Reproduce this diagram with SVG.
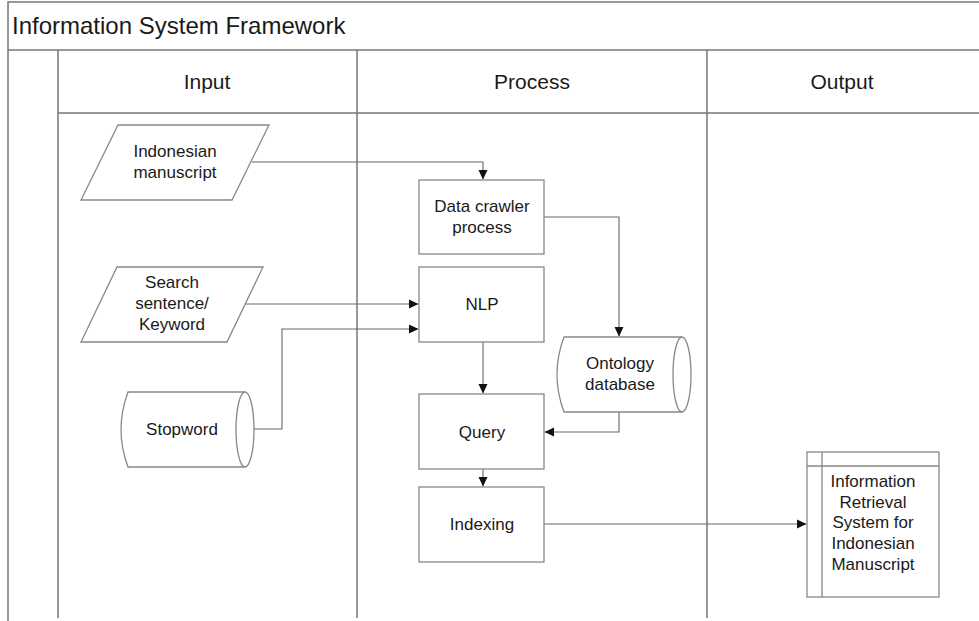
<svg xmlns="http://www.w3.org/2000/svg" width="979" height="621" viewBox="0 0 979 621">
<style>
text{font-family:"Liberation Sans",Arial,sans-serif;fill:#1a1a1a;text-anchor:middle}
.lane{fill:none;stroke:#777;stroke-width:1.5}
.shape{fill:#fff;stroke:#888;stroke-width:1.3}
.conn{fill:none;stroke:#666;stroke-width:1.1}
.t{font-size:17px}
.h{font-size:21px}
</style>
<defs>
<marker id="arr" markerWidth="10" markerHeight="10" refX="9" refY="5" orient="auto" markerUnits="userSpaceOnUse">
<path d="M0,0.5 L9.5,5 L0,9.5 Z" fill="#111"/>
</marker>
</defs>
<rect width="979" height="621" fill="#fff"/>
<g id="frame">
<path class="lane" d="M8,621 V2 H979 M8,50 H979 M58,50 V618 M357,50 V618 M707,50 V618 M58,113 H979"/>
<text x="12" y="34" style="text-anchor:start;font-size:24px">Information System Framework</text>
<text class="h" x="207" y="89">Input</text>
<text class="h" x="532" y="89">Process</text>
<text class="h" x="842" y="89">Output</text>
</g>
<g id="connectors">
<path class="conn" d="M252,162 H483 V179" marker-end="url(#arr)"/>
<path class="conn" d="M544,217 H619 V336" marker-end="url(#arr)"/>
<path class="conn" d="M245,304 H418" marker-end="url(#arr)"/>
<path class="conn" d="M254,429 H282 V329 H418" marker-end="url(#arr)"/>
<path class="conn" d="M483,342 V393" marker-end="url(#arr)"/>
<path class="conn" d="M619,412 V432 H545" marker-end="url(#arr)"/>
<path class="conn" d="M483,469 V486" marker-end="url(#arr)"/>
<path class="conn" d="M544,524 H806" marker-end="url(#arr)"/>
</g>
<g id="indonesian-manuscript">
<polygon class="shape" points="118,125 269,125 232,200 81,200"/>
<text class="t" x="175" y="157">Indonesian</text>
<text class="t" x="175" y="178">manuscript</text>
</g>
<g id="search-sentence">
<polygon class="shape" points="117,267 263,267 227,342 81,342"/>
<text class="t" x="172" y="288">Search</text>
<text class="t" x="172" y="309">sentence/</text>
<text class="t" x="172" y="330">Keyword</text>
</g>
<g id="stopword">
<path class="shape" d="M128,392 H245 A9,37.5 0 0 1 245,467 H128 Q114,429.5 128,392 Z"/>
<path class="shape" d="M245,392 A9,37.5 0 0 0 245,467"/>
<text class="t" x="182" y="435">Stopword</text>
</g>
<g id="data-crawler">
<rect class="shape" x="419" y="180" width="125" height="74"/>
<text class="t" x="482" y="212">Data crawler</text>
<text class="t" x="482" y="233">process</text>
</g>
<g id="nlp">
<rect class="shape" x="419" y="267" width="125" height="75"/>
<text class="t" x="482" y="310">NLP</text>
</g>
<g id="ontology-database">
<path class="shape" d="M564,337 H682 A9,37.5 0 0 1 682,412 H564 Q550,374.5 564,337 Z"/>
<path class="shape" d="M682,337 A9,37.5 0 0 0 682,412"/>
<text class="t" x="620" y="369">Ontology</text>
<text class="t" x="620" y="390">database</text>
</g>
<g id="query">
<rect class="shape" x="419" y="394" width="125" height="75"/>
<text class="t" x="482" y="438">Query</text>
</g>
<g id="indexing">
<rect class="shape" x="419" y="487" width="125" height="75"/>
<text class="t" x="482" y="530">Indexing</text>
</g>
<g id="output-system">
<rect class="shape" x="807" y="452" width="132" height="145"/>
<path class="shape" d="M822,452 V597 M807,466 H939"/>
<text class="t" x="873" y="487">Information</text>
<text class="t" x="873" y="508">Retrieval</text>
<text class="t" x="873" y="528">System for</text>
<text class="t" x="873" y="549">Indonesian</text>
<text class="t" x="873" y="570">Manuscript</text>
</g>
</svg>
